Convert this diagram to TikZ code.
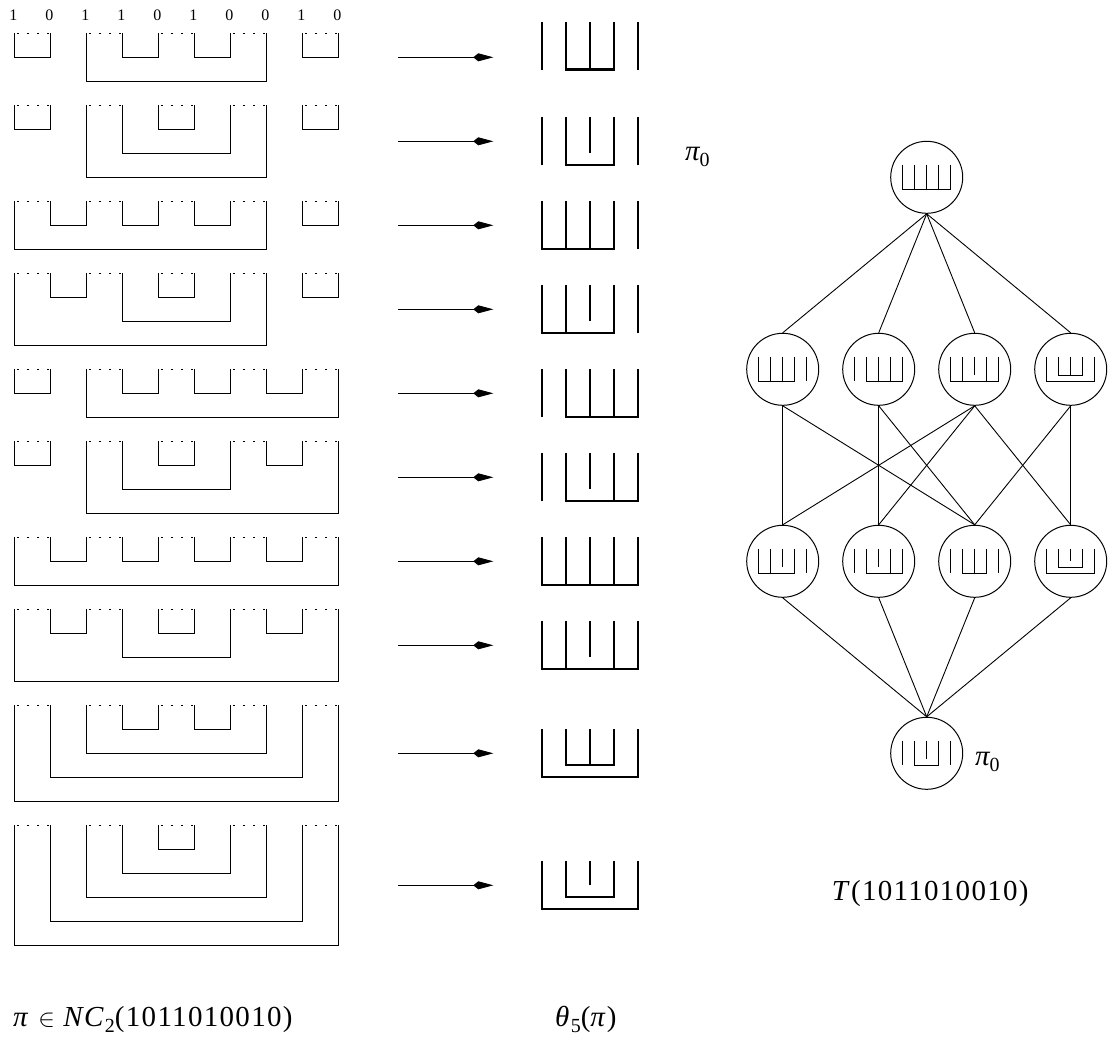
\documentclass[tikz,border=0pt]{standalone}
\usepackage{fontspec}
\setmainfont{Liberation Serif}
\newfontfamily\labfont[LetterSpace=4.5]{Liberation Serif}
\usetikzlibrary{arrows.meta}
\newcommand\partrow[2]{%
  \foreach \a/\b/\l in {#2} {
    \draw[partline] ({14.3+36*\a},#1) -- ({14.3+36*\a},{#1+24*\l}) -- ({14.3+36*\b},{#1+24*\l}) -- ({14.3+36*\b},#1);
  }
  \foreach \k in {0,...,4} {
    \draw[dotline] ({14.3+72*\k},#1) -- ({50.3+72*\k},#1);
  }
}
\tikzset{
  partline/.style={line width=1.2pt},
  dotline/.style={line width=1pt, dash pattern=on 2pt off 8pt, dash phase=7pt},
  arr/.style={line width=0.9pt, -{Kite[length=20pt,width=8pt,inset=5pt]}},
  big/.style={scale=24, line width=2.2pt},
  small/.style={scale=12, line width=1.2pt},
  lnode/.style={draw, circle, minimum size=72pt, inner sep=0pt, line width=1pt},
  edge/.style={line width=0.9pt},
  lab/.style={inner sep=0pt, anchor=base west, font=\fontsize{29}{32}\labfont},
  th1/.pic={\draw (-2,-1)--(-2,1) (2,-1)--(2,1) (-1,-1)--(-1,1)--(1,1)--(1,-1) (0,-1)--(0,1);},
  th2/.pic={\draw (-2,-1)--(-2,1) (2,-1)--(2,1) (-1,-1)--(-1,1)--(1,1)--(1,-1) (0,-1)--(0,.5);},
  th3/.pic={\draw (-2,-1)--(-2,1)--(1,1)--(1,-1) (-1,-1)--(-1,1) (0,-1)--(0,1) (2,-1)--(2,1);},
  th4/.pic={\draw (-2,-1)--(-2,1)--(1,1)--(1,-1) (-1,-1)--(-1,1) (0,-1)--(0,.5) (2,-1)--(2,1);},
  th5/.pic={\draw (-2,-1)--(-2,1) (-1,-1)--(-1,1)--(2,1)--(2,-1) (0,-1)--(0,1) (1,-1)--(1,1);},
  th6/.pic={\draw (-2,-1)--(-2,1) (-1,-1)--(-1,1)--(2,1)--(2,-1) (0,-1)--(0,.5) (1,-1)--(1,1);},
  th7/.pic={\draw (-2,-1)--(-2,1)--(2,1)--(2,-1) (-1,-1)--(-1,1) (0,-1)--(0,1) (1,-1)--(1,1);},
  th8/.pic={\draw (-2,-1)--(-2,1)--(2,1)--(2,-1) (-1,-1)--(-1,1) (0,-1)--(0,.5) (1,-1)--(1,1);},
  th9/.pic={\draw (-2,-1)--(-2,1)--(2,1)--(2,-1) (-1,-1)--(-1,.5)--(1,.5)--(1,-1) (0,-1)--(0,.5);},
  th10/.pic={\draw (-2,-1)--(-2,1)--(2,1)--(2,-1) (-1,-1)--(-1,.5)--(1,.5)--(1,-1) (0,-1)--(0,0);},
}
\begin{document}
\begin{tikzpicture}[x=1pt,y=-1pt]
\useasboundingbox (0,0) rectangle (1116,1039);
% top digits
\foreach \d [count=\i from 0] in {1,0,1,1,0,1,0,0,1,0}
  \node[inner sep=0pt, anchor=base, font=\fontsize{16}{17}\selectfont] (dig\i) at ({13.3+36*\i},20.7) {\d};
% partitions
\partrow{33.3}{0/1/1,2/7/2,3/4/1,5/6/1,8/9/1}
\partrow{105.3}{0/1/1,2/7/3,3/6/2,4/5/1,8/9/1}
\partrow{201.3}{0/7/2,1/2/1,3/4/1,5/6/1,8/9/1}
\partrow{273.3}{0/7/3,1/2/1,3/6/2,4/5/1,8/9/1}
\partrow{369.3}{0/1/1,2/9/2,3/4/1,5/6/1,7/8/1}
\partrow{441.3}{0/1/1,2/9/3,3/6/2,4/5/1,7/8/1}
\partrow{537.3}{0/9/2,1/2/1,3/4/1,5/6/1,7/8/1}
\partrow{609.3}{0/9/3,1/2/1,3/6/2,4/5/1,7/8/1}
\partrow{705.3}{0/9/4,1/8/3,2/7/2,3/4/1,5/6/1}
\partrow{825.3}{0/9/5,1/8/4,2/7/3,3/6/2,4/5/1}
% arrows
\foreach \r/\c in {1/57.3,2/141.3,3/225.3,4/309.3,5/393.3,6/477.3,7/561.3,8/645.3,9/753.3,10/885.3} {
  \coordinate (s\r) at (398.3,\c);
  \coordinate (e\r) at (493.3,\c);
  \draw[arr] (s\r) -- (e\r);
}
% theta shapes
\pic[big] at (590.3,45.5) {th1};
\pic[big] at (590.3,141.3) {th2};
\pic[big] at (590.3,225.3) {th3};
\pic[big] at (590.3,309.3) {th4};
\pic[big] at (590.3,393.3) {th5};
\pic[big] at (590.3,477.3) {th6};
\pic[big] at (590.3,561.3) {th7};
\pic[big] at (590.3,645.3) {th8};
\pic[big] at (590.3,753.3) {th9};
\pic[big] at (590.3,885.3) {th10};
\node[lab] (pi0a) at (685,160) {\itshape π\raisebox{-6pt}{\fontsize{20}{20}\selectfont\upshape 0}};
% lattice
\node[lnode] (top) at (926.7,177.3) {};
\node[lnode] (m1) at (782.7,369.3) {};
\node[lnode] (m2) at (878.7,369.3) {};
\node[lnode] (m3) at (974.7,369.3) {};
\node[lnode] (m4) at (1070.7,369.3) {};
\node[lnode] (t1) at (782.7,561.3) {};
\node[lnode] (t2) at (878.7,561.3) {};
\node[lnode] (t3) at (974.7,561.3) {};
\node[lnode] (t4) at (1070.7,561.3) {};
\node[lnode] (bot) at (926.7,753.3) {};
\pic[small] at (top) {th7};
\pic[small] at (m1) {th3};
\pic[small] at (m2) {th5};
\pic[small] at (m3) {th8};
\pic[small] at (m4) {th9};
\pic[small] at (t1) {th4};
\pic[small] at (t2) {th6};
\pic[small] at (t3) {th1};
\pic[small] at (t4) {th10};
\pic[small] at (bot) {th2};
\foreach \m in {m1,m2,m3,m4} \draw[edge] (top.south) -- (\m.north);
\foreach \t in {t1,t2,t3,t4} \draw[edge] (\t.south) -- (bot.north);
\foreach \m/\t in {m1/t1,m1/t3,m2/t2,m2/t3,m3/t1,m3/t2,m3/t4,m4/t3,m4/t4}
  \draw[edge] (\m.south) -- (\t.north);
\node[lab] (pi0b) at (975,765) {\itshape π\raisebox{-6pt}{\fontsize{20}{20}\selectfont\upshape 0}};
% bottom labels
\node[lab] (lnc) at (13,1026.7) {\textit{π} $\in$ \textit{NC}\raisebox{-6pt}{\fontsize{20}{20}\selectfont 2}(1011010010)};
\node[lab] (lth) at (555,1026.7) {\textit{θ}\raisebox{-6pt}{\fontsize{20}{20}\selectfont 5}(\textit{π})};
\node[lab] (lt) at (831.7,900) {\textit{T}(1011010010)};
\end{tikzpicture}
\end{document}
